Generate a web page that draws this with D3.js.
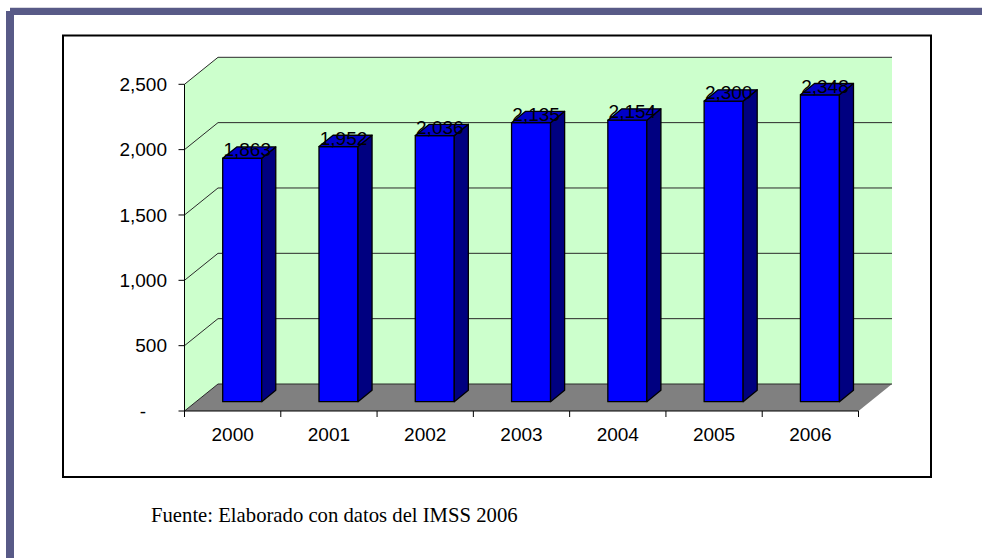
<!DOCTYPE html>
<html>
<head>
<meta charset="utf-8">
<script src="https://cdn.jsdelivr.net/npm/d3@7"></script>
<style>
  html, body { margin: 0; padding: 0; background: #ffffff; }
  svg { display: block; }
</style>
</head>
<body>
<svg id="chart" width="982" height="558"></svg>
<script>
// ---- data ----
const categories = ["2000", "2001", "2002", "2003", "2004", "2005", "2006"];
const values = [1863, 1952, 2036, 2135, 2154, 2300, 2348];
const yTicks = [0, 500, 1000, 1500, 2000, 2500];
const yTickLabels = ["-", "500", "1,000", "1,500", "2,000", "2,500"];
const valueLabels = ["1,863", "1,952", "2,036", "2,135", "2,154", "2,300", "2,348"];
const sourceNote = "Fuente: Elaborado con datos del IMSS 2006";

// ---- layout ----
const svg = d3.select("#chart");
const DX = 33.5, DY = 27;          // full depth offset of the 3D box
const z0 = 0.345, z1 = 0.765;      // bar depth range
const barW = 39;
const barShift = -2;

const x = d3.scaleBand().domain(categories).range([184.5, 858.5]).padding(0);
const y = d3.scaleLinear().domain([0, 2500]).range([411, 84.3]);
const P = (px, py, z) => [px + z * DX, py - z * DY];
const poly = pts => pts.map(p => p.join(",")).join(" ");

// frame decoration
svg.append("rect").attr("x", 0).attr("y", 0).attr("width", 982).attr("height", 558).attr("fill", "#ffffff");
svg.append("line").attr("x1", 10).attr("x2", 982).attr("y1", 7.5).attr("y2", 7.5).attr("stroke", "#d8d8e0").attr("stroke-width", 1);
svg.append("rect").attr("x", 10).attr("y", 8).attr("width", 972).attr("height", 7).attr("fill", "#585A87");
svg.append("rect").attr("x", 6).attr("y", 11).attr("width", 8).attr("height", 547).attr("fill", "#585A87");

// chart box
svg.append("rect").attr("x", 63).attr("y", 35.5).attr("width", 868).attr("height", 441.5)
  .attr("fill", "#ffffff").attr("stroke", "#000").attr("stroke-width", 2);

const xl = x.range()[0], xr = x.range()[1];
const yb = y(0), yt = y(2500);

// back wall
svg.append("polygon")
  .attr("points", poly([P(xl, yt, 1), P(xr, yt, 1), P(xr, yb, 1), P(xl, yb, 1)]))
  .attr("fill", "#CCFFCC");
// side wall
svg.append("polygon")
  .attr("points", poly([P(xl, yt, 0), P(xl, yt, 1), P(xl, yb, 1), P(xl, yb, 0)]))
  .attr("fill", "#CCFFCC");
// floor
svg.append("polygon")
  .attr("points", poly([P(xl, yb, 0), P(xr, yb, 0), P(xr, yb, 1), P(xl, yb, 1)]))
  .attr("fill", "#808080");

// gridlines (back wall + side wall)
const grid = svg.append("g").attr("stroke", "#2a2a2a").attr("stroke-width", 1).attr("fill", "none");
yTicks.forEach(t => {
  const a = P(xl, y(t), 0), b = P(xl, y(t), 1), c = P(xr, y(t), 1);
  grid.append("polyline").attr("points", poly([a, b, c]));
});

// value axis (front left edge) + ticks
svg.append("line").attr("x1", xl).attr("x2", xl).attr("y1", yt).attr("y2", yb)
  .attr("stroke", "#000").attr("stroke-width", 1);
const yAxisG = svg.append("g");
yTicks.forEach((t, i) => {
  yAxisG.append("line").attr("x1", 178.5).attr("x2", xl).attr("y1", y(t)).attr("y2", y(t))
    .attr("stroke", "#000").attr("stroke-width", 1);
  yAxisG.append("text")
    .attr("x", t === 0 ? 146 : 167)
    .attr("y", y(t)).attr("dy", "0.35em")
    .attr("text-anchor", "end")
    .attr("font-family", "'Liberation Sans', Arial, sans-serif")
    .attr("font-size", 19)
    .attr("fill", "#000")
    .text(yTickLabels[i]);
});

// category axis (front floor edge) + ticks
svg.append("line").attr("x1", xl).attr("x2", xr).attr("y1", yb).attr("y2", yb)
  .attr("stroke", "#000").attr("stroke-width", 1);
const xBounds = categories.map(c => x(c)).concat([xr]);
xBounds.forEach(b => {
  svg.append("line").attr("x1", b).attr("x2", b).attr("y1", yb).attr("y2", yb + 6)
    .attr("stroke", "#000").attr("stroke-width", 1);
});
categories.forEach(c => {
  svg.append("text")
    .attr("x", x(c) + x.bandwidth() / 2).attr("y", 441)
    .attr("text-anchor", "middle")
    .attr("font-family", "'Liberation Sans', Arial, sans-serif")
    .attr("font-size", 19).attr("fill", "#000")
    .text(c);
});

// bars
const bars = svg.append("g").attr("stroke", "#000").attr("stroke-width", 1.3).attr("stroke-linejoin", "round");
categories.forEach((c, i) => {
  const xc = x(c) + x.bandwidth() / 2 + barShift;
  const L = xc - barW / 2, R = xc + barW / 2;
  const T = y(values[i]), B = y(0);
  // front
  bars.append("polygon").attr("fill", "#0000FF")
    .attr("points", poly([P(L, T, z0), P(R, T, z0), P(R, B, z0), P(L, B, z0)]));
  // side
  bars.append("polygon").attr("fill", "#000080")
    .attr("points", poly([P(R, T, z0), P(R, T, z1), P(R, B, z1), P(R, B, z0)]));
  // top
  bars.append("polygon").attr("fill", "#0000C8")
    .attr("points", poly([P(L, T, z0), P(L, T, z1), P(R, T, z1), P(R, T, z0)]));
});

// value labels
categories.forEach((c, i) => {
  const xc = x(c) + x.bandwidth() / 2 + barShift;
  const p = P(xc, y(values[i]), (z0 + z1) / 2);
  svg.append("text")
    .attr("x", p[0] - 2)
    .attr("y", y(values[i]) - z0 * DY - 2)
    .attr("text-anchor", "middle")
    .attr("font-family", "'Liberation Sans', Arial, sans-serif")
    .attr("font-size", 19).attr("fill", "#000")
    .text(valueLabels[i]);
});

// source note
svg.append("text")
  .attr("x", 151).attr("y", 522)
  .attr("font-family", "'Liberation Serif', 'Times New Roman', serif")
  .attr("font-size", 20.7).attr("fill", "#000")
  .text(sourceNote);
</script>
</body>
</html>
